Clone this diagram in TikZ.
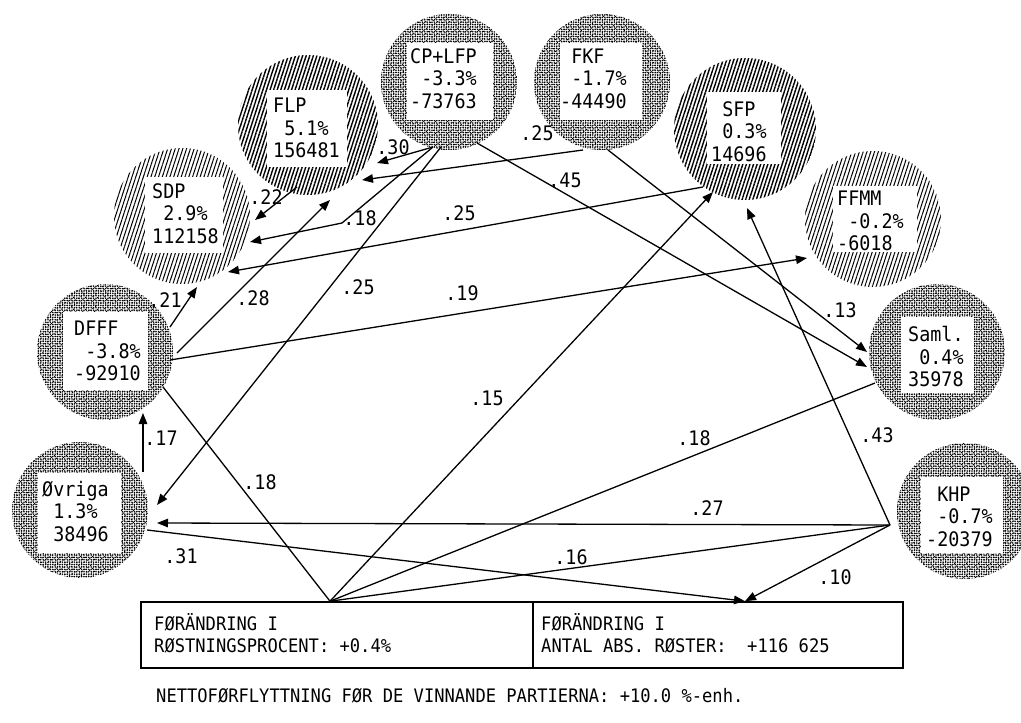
\documentclass[tikz,border=0pt]{standalone}
\usepackage{fontspec}
\newfontfamily\tw[FakeStretch=0.92]{DejaVu Sans Mono}
\usetikzlibrary{arrows.meta,patterns.meta,calc}
\begin{document}
\begin{tikzpicture}[x=1pt,y=-1pt,
  ring/.style={circle,inner sep=0pt,minimum size=#1},
  hatch/.style={pattern={Lines[angle=72,distance=3.4pt,line width=1.4pt]}},
  hatchl/.style={pattern={Lines[angle=72,distance=3.6pt,line width=1.0pt]}},
  stip/.style={pattern={Dots[distance=2.4pt,radius=0.9pt]}},
  stip2/.style={pattern={Dots[angle=33,distance=3.3pt,radius=0.75pt]}},
  wbox/.style={fill=white,inner sep=0pt},
  ptxt/.style={font=\tw\fontsize{20}{22.5}\selectfont,align=left,inner sep=0pt,anchor=north west},
  lab/.style={font=\tw\fontsize{20}{22.5}\selectfont,inner sep=0pt},
  btxt/.style={font=\tw\fontsize{18.6}{22}\selectfont,inner sep=0pt,anchor=base west},
  flow/.style={line width=1.3pt},
  arr/.style={flow,-{Triangle[length=11pt,width=8.5pt]}},
  bx/.style={draw,line width=1.6pt,inner sep=0pt,minimum height=66pt},
]
\useasboundingbox (0,0) rectangle (1021,723);

% party circles
\node[ring=140pt,hatch]  (flp)  at (308,125) {};
\node[ring=136pt,hatchl] (sdp)  at (182,216) {};
\node[ring=136pt,stip]   (cpl)  at (449,82)  {};
\node[ring=136pt,stip]   (fkf)  at (602,82)  {};
\node[ring=142pt,hatch]  (sfp)  at (745,129) {};
\node[ring=136pt,hatchl] (ffmm) at (873,219) {};
\node[ring=136pt,stip]   (dfff) at (105,352) {};
\node[ring=136pt,stip]   (saml) at (937,352) {};
\node[ring=136pt,stip]   (ovr)  at (80,510)  {};
\node[ring=136pt,stip]   (khp)  at (965,511) {};
\foreach \n in {cpl,fkf,dfff,saml,ovr,khp}{\fill[stip2] (\n) circle (68pt);}

% white boxes
\node[wbox,minimum width=80pt,minimum height=77pt] (flpb)  at (307,128) {};
\node[wbox,minimum width=86pt,minimum height=77pt] (cplb)  at (450,81)  {};
\node[wbox,minimum width=82pt,minimum height=77pt] (fkfb)  at (601,81)  {};
\node[wbox,minimum width=74pt,minimum height=72pt] (sfpb)  at (744,128) {};
\node[wbox,minimum width=84pt,minimum height=66pt] (ffmmb) at (875,219) {};
\node[wbox,minimum width=78pt,minimum height=76pt] (sdpb)  at (184,215) {};
\node[wbox,minimum width=85pt,minimum height=78pt] (dfffb) at (105,351) {};
\node[wbox,minimum width=83pt,minimum height=80pt] (ovrb)  at (79,513)  {};
\node[wbox,minimum width=73pt,minimum height=76pt] (samlb) at (937,355) {};
\node[wbox,minimum width=82pt,minimum height=76pt] (khpb)  at (962,515) {};

% texts
\node[ptxt] (flpt)  at (273,98)  {FLP\\\phantom{0}5.1\%\\156481};
\node[ptxt] (cplt)  at (410,48)  {CP+LFP\\\phantom{0}-3.3\%\\-73763};
\node[ptxt] (fkft)  at (560,48)  {\phantom{0}FKF\\\phantom{0}-1.7\%\\-44490};
\node[ptxt] (sfpt)  at (711,101) {\phantom{0}SFP\\\phantom{0}0.3\%\\14696};
\node[ptxt] (ffmmt) at (837,191) {FFMM\\\phantom{0}-0.2\%\\-6018};
\node[ptxt] (sdpt)  at (152,183) {SDP\\\phantom{0}2.9\%\\112158};
\node[ptxt] (dffft) at (74,321)  {DFFF\\\phantom{0}-3.8\%\\-92910};
\node[ptxt] (ovrt)  at (42,481)  {Øvriga\\\phantom{0}1.3\%\\\phantom{0}38496};
\node[ptxt] (samlt) at (908,326) {Saml.\\\phantom{0}0.4\%\\35978};
\node[ptxt] (khpt)  at (926,486) {\phantom{0}KHP\\\phantom{0}-0.7\%\\-20379};

% bottom boxes
\node[bx,minimum width=392pt] (boxl) at (337,635) {};
\node[bx,minimum width=370pt] (boxr) at (718,635) {};
\node[btxt] (bl1) at (154,630) {FØRÄNDRING I};
\node[btxt] (bl2) at (154,652) {RØSTNINGSPROCENT: +0.4\%};
\node[btxt] (br1) at (541,630) {FØRÄNDRING I};
\node[btxt] (br2) at (541,652) {ANTAL ABS. RØSTER:\ \ +116 625};
\node[btxt] (nf)  at (156,702) {NETTOFØRFLYTTNING FØR DE VINNANDE PARTIERNA: +10.0 \%-enh.};

\coordinate (bp) at ($(boxl.north)+(-7,0)$);
\coordinate (rp) at ($(boxr.north)+(27,0)$);
\coordinate (kp) at ($(khp)+(-75,14)$);
\coordinate (b18) at (342,223);

% connectors
\draw[arr] ($(cpl)+(-16,65)$) -- ($(flp)+(69,38)$);
\draw[arr] ($(fkf)+(-19,68)$) -- ($(flp)+(54,55)$);
\draw[arr] ($(flp)+(-11,62)$) -- ($(sdp)+(73,4)$);
\draw[arr] ($(cpl)+(-16,65)$) -- (b18) -- ($(sdp)+(68,26)$);
\draw[arr] ($(sfp)+(-42,58)$) -- ($(sdp)+(46,56)$);
\draw[arr] ($(dfff)+(65,-25)$) -- ($(sdp)+(15,71)$);
\draw[arr] ($(dfff)+(72,1)$) -- ($(flp)+(22,75)$);
\draw[arr] ($(cpl)+(-8,65)$) -- ($(ovr)+(77,-5)$);
\draw[arr] ($(dfff)+(65,8)$) -- ($(ffmm)+(-66,39)$);
\draw[arr] ($(cpl)+(28,61)$) -- ($(saml)+(-70,15)$);
\draw[arr] ($(fkf)+(6,68)$) -- ($(saml)+(-70,0)$);
\draw[arr] (bp) -- ($(sfp)+(-32,63)$);
\draw[arr] (kp) -- ($(sfp)+(2,79)$);
\draw[flow] (bp) -- ($(saml)+(-62,31)$);
\draw[flow] (bp) -- (kp);
\draw[arr] (kp) -- ($(ovr)+(77,13)$);
\draw[arr] (kp) -- (rp);
\draw[arr] ($(ovr)+(67,20)$) -- (rp);
\draw[arr] ($(ovr)+(63,-38)$) -- ($(dfff)+(38,61)$);
\draw[flow] ($(dfff)+(58,35)$) -- (bp);

% labels
\node[lab] (l30) at (393,147) {.30};
\node[lab] (l25a) at (537,133) {.25};
\node[lab] (l22) at (266,197) {.22};
\node[lab] (l18a) at (360,218) {.18};
\node[lab] (l25b) at (459,213) {.25};
\node[lab] (l21) at (165,300) {.21};
\node[lab] (l28) at (253,298) {.28};
\node[lab] (l25c) at (358,287) {.25};
\node[lab] (l19) at (462,293) {.19};
\node[lab] (l45) at (565,180) {.45};
\node[lab] (l13) at (840,310) {.13};
\node[lab] (l15) at (487,398) {.15};
\node[lab] (l43) at (877,435) {.43};
\node[lab] (l18b) at (694,438) {.18};
\node[lab] (l16) at (571,557) {.16};
\node[lab] (l27) at (707,508) {.27};
\node[lab] (l10) at (835,577) {.10};
\node[lab] (l31) at (181,556) {.31};
\node[lab] (l17) at (161,438) {.17};
\node[lab] (l18c) at (260,482) {.18};
\end{tikzpicture}
\end{document}
